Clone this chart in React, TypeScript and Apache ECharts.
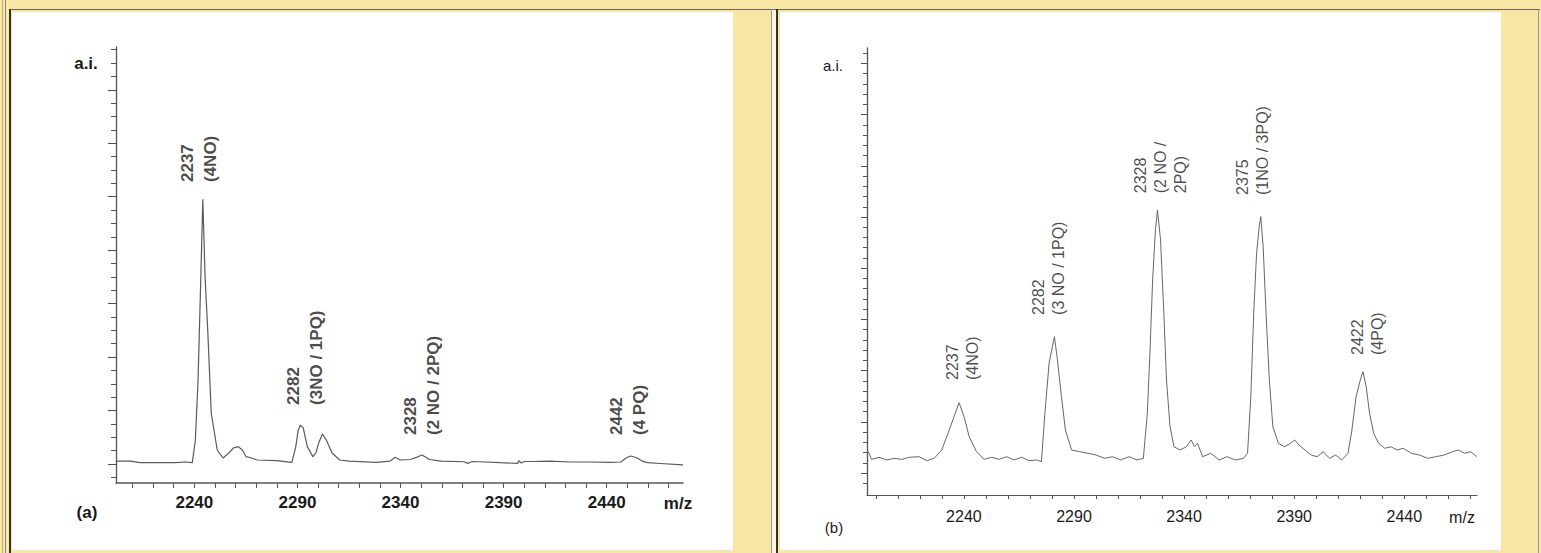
import React, { useEffect, useRef } from 'react';
import * as echarts from 'echarts';

const FONT = '"Liberation Sans", Arial, Helvetica, sans-serif';
const YELLOW = '#F7E6A4';

// ---------- Panel (a) ----------
const mzA = [2202.2, 2209.0, 2213.8, 2223.5, 2230.8, 2235.6, 2239.0, 2240.5, 2241.8, 2242.9, 2244.1, 2245.2, 2246.5, 2248.2, 2251.1, 2253.9, 2256.7, 2258.9, 2261.3, 2263.3, 2265.1, 2267.8, 2270.5, 2279.7, 2287.3, 2289.2, 2290.4, 2291.4, 2292.8, 2294.8, 2297.5, 2299.1, 2300.3, 2302.1, 2304.0, 2306.8, 2310.5, 2315.1, 2328.1, 2335.0, 2337.4, 2339.9, 2344.7, 2348.1, 2350.4, 2352.5, 2354.1, 2359.7, 2370.8, 2372.6, 2374.8, 2378.2, 2388.3, 2396.8, 2397.5, 2398.5, 2400.0, 2404.2, 2412.6, 2422.7, 2432.0, 2441.7, 2446.8, 2449.4, 2451.5, 2454.3, 2457.2, 2459.8, 2465.9, 2477.0];
const intensityA = [0.22, 0.22, 0.10, 0.10, 0.10, 0.15, 0.10, 1.8, 6.3, 12.6, 19.8, 14.0, 10.0, 3.8, 1.05, 0.45, 0.82, 1.2, 1.3, 1.05, 0.55, 0.45, 0.30, 0.25, 0.13, 1.3, 2.55, 2.9, 2.7, 1.3, 0.55, 0.9, 1.57, 2.25, 1.8, 0.82, 0.30, 0.22, 0.13, 0.22, 0.50, 0.30, 0.34, 0.52, 0.67, 0.49, 0.34, 0.22, 0.17, 0.05, 0.19, 0.17, 0.10, 0.05, 0.26, 0.07, 0.19, 0.19, 0.22, 0.15, 0.15, 0.13, 0.15, 0.45, 0.60, 0.49, 0.22, 0.10, 0.04, -0.07];
const xTicksA = [2210, 2220, 2230, 2240, 2250, 2260, 2270, 2280, 2290, 2300, 2310, 2320, 2330, 2340, 2350, 2360, 2370, 2380, 2390, 2400, 2410, 2420, 2430, 2440, 2450, 2460, 2470];
const xLabelsA = [2240, 2290, 2340, 2390, 2440];
const yTicksA = [-1, 0, 1, 2, 3, 4, 5, 6, 7, 8, 9, 10, 11, 12, 13, 14, 15, 16, 17, 18, 19, 20, 21, 22, 23, 24, 25, 26, 27, 28, 29, 30, 31];
const yMajorTicksA = [0, 4, 8, 12, 16, 20, 24, 28];
const peakLabelXA = [2242.2, 2293.8, 2350.4, 2450.4];
const peakLabelYA = [21.1, 4.42, 2.17, 2.17];
const peakLabelTextA = ['2237\n(4NO)', '2282\n(3NO / 1PQ)', '2328\n(2 NO / 2PQ)', '2442\n(4 PQ)'];

// ---------- Panel (b) ----------
const mzB = [2196.6, 2198.1, 2201.5, 2204.9, 2208.4, 2211.8, 2215.1, 2219.7, 2223.1, 2226.5, 2229.9, 2232.8, 2235.5, 2237.8, 2240.1, 2242.4, 2245.7, 2249.2, 2252.6, 2255.9, 2259.4, 2262.8, 2266.2, 2269.6, 2273.0, 2275.2, 2276.8, 2278.7, 2281.1, 2282.3, 2284.3, 2286.1, 2288.9, 2292.6, 2296.4, 2300.1, 2303.8, 2307.5, 2311.2, 2315.0, 2318.6, 2321.5, 2323.3, 2324.6, 2325.7, 2327.0, 2327.9, 2329.3, 2330.8, 2332.0, 2333.6, 2335.4, 2338.2, 2341.0, 2343.2, 2344.7, 2346.1, 2348.4, 2352.1, 2355.9, 2359.5, 2363.3, 2367.0, 2368.8, 2370.3, 2371.6, 2372.9, 2374.1, 2374.8, 2375.9, 2377.2, 2378.7, 2380.3, 2382.8, 2385.6, 2388.4, 2390.2, 2392.1, 2394.9, 2397.7, 2400.4, 2403.2, 2406.0, 2408.8, 2411.6, 2414.4, 2416.2, 2418.1, 2420.0, 2421.2, 2422.7, 2424.2, 2426.1, 2428.3, 2431.1, 2433.9, 2436.7, 2439.5, 2443.2, 2446.9, 2450.6, 2454.3, 2458.1, 2461.8, 2464.5, 2467.4, 2470.1, 2472.9];
const intensityB = [3.09, 2.34, 2.54, 2.28, 2.44, 2.34, 2.54, 2.60, 2.21, 2.44, 3.25, 4.88, 6.50, 7.87, 6.50, 4.55, 3.09, 2.34, 2.54, 2.34, 2.60, 2.28, 2.54, 2.21, 2.28, 2.11, 6.87, 11.75, 14.32, 12.36, 8.46, 5.21, 3.25, 3.09, 2.93, 2.76, 2.44, 2.60, 2.28, 2.60, 2.28, 2.44, 6.84, 13.34, 19.85, 24.74, 26.69, 23.76, 16.60, 10.09, 5.53, 3.57, 3.25, 3.57, 4.23, 3.57, 3.91, 2.60, 2.93, 2.28, 2.60, 2.28, 2.44, 2.93, 8.46, 16.60, 22.46, 25.06, 26.04, 23.11, 16.60, 10.09, 5.53, 3.91, 3.57, 3.91, 4.23, 3.74, 3.25, 2.76, 2.60, 3.09, 2.44, 2.76, 2.28, 2.93, 5.21, 8.46, 10.09, 10.90, 9.43, 6.84, 4.88, 3.91, 3.42, 3.57, 3.25, 3.42, 2.93, 2.76, 2.44, 2.60, 2.76, 3.09, 3.25, 2.93, 3.09, 2.60];
const xTicksB = [2200, 2210, 2220, 2230, 2240, 2250, 2260, 2270, 2280, 2290, 2300, 2310, 2320, 2330, 2340, 2350, 2360, 2370, 2380, 2390, 2400, 2410, 2420, 2430, 2440, 2450, 2460, 2470];
const xLabelsB = [2240, 2290, 2340, 2390, 2440];
const yTicksB = [0, 1, 2, 3, 4, 5, 6, 7, 8, 9, 10, 11, 12, 13, 14, 15, 16, 17, 18, 19, 20, 21, 22, 23, 24, 25, 26, 27, 28, 29, 30, 31, 32, 33, 34, 35, 36, 37, 38, 39, 40, 41, 42];
const yMajorTicksB = [1, 6, 11, 16, 21, 26, 31, 36, 41];
const peakLabelXB = [2239.2, 2278.3, 2329.3, 2371.1, 2423.2];
const peakLabelYB = [10.09, 16.44, 28.32, 28.15, 12.53];
const peakLabelTextB = ['2237\n(4NO)', '2282\n(3 NO / 1PQ)', '2328\n(2 NO /\n2PQ)', '2375\n(1NO / 3PQ)', '2422\n(4PQ)'];

const pairs = (xs: number[], ys: number[]) => xs.map((x, i) => [x, ys[i]]);
const labelItems = (xs: number[], ys: number[], ts: string[]) =>
  xs.map((x, i) => ({ value: [x, ys[i]], name: ts[i] }));

function makeXAxis(gi: number, min: number, max: number, ticks: number[], labels: number[], bold: boolean, fs: number, margin: number, tickLen: number) {
  return {
    gridIndex: gi,
    type: 'value',
    min,
    max,
    axisLine: { show: true, onZero: false, lineStyle: { color: '#555', width: bold ? 1.5 : 1.2 } },
    axisTick: { show: true, customValues: ticks, length: tickLen, lineStyle: { color: '#555', width: 1 } },
    axisLabel: {
      show: true,
      customValues: labels,
      margin,
      formatter: (v: number) => String(Math.round(v)),
      fontFamily: FONT,
      fontSize: fs,
      fontWeight: bold ? 'bold' : 'normal',
      color: '#1a1a1a',
    },
    splitLine: { show: false },
  };
}

function makeYAxis(gi: number, min: number, max: number, ticks: number[], showLine: boolean, tickLen: number, color: string) {
  return {
    gridIndex: gi,
    type: 'value',
    position: 'left',
    min,
    max,
    axisLine: { show: showLine, onZero: false, lineStyle: { color: '#555', width: 1.3 } },
    axisTick: { show: true, customValues: ticks, length: tickLen, lineStyle: { color, width: 1 } },
    axisLabel: { show: false },
    splitLine: { show: false },
  };
}

function labelSeries(xi: number, yi: number, data: any[], bold: boolean, fs: number, lh: number) {
  return {
    type: 'scatter',
    xAxisIndex: xi,
    yAxisIndex: yi,
    silent: true,
    symbolSize: 1,
    itemStyle: { color: 'rgba(0,0,0,0)' },
    data,
    label: {
      show: true,
      position: 'inside',
      rotate: 90,
      align: 'left',
      verticalAlign: 'middle',
      formatter: '{b}',
      fontFamily: FONT,
      fontSize: fs,
      fontWeight: bold ? 'bold' : 'normal',
      lineHeight: lh,
      color: '#1a1a1a',
    },
    z: 5,
  };
}

function txt(x: number, y: number, text: string, fs: number, bold: boolean) {
  return {
    type: 'text',
    x,
    y,
    silent: true,
    style: {
      text,
      fontFamily: FONT,
      fontSize: fs,
      fontWeight: bold ? 'bold' : 'normal',
      fill: '#1a1a1a',
      align: 'center',
      verticalAlign: 'middle',
    },
  };
}

const option: any = {
  animation: false,
  backgroundColor: 'transparent',
  grid: [
    { left: 116, top: 47, width: 567, height: 436 },
    { left: 867, top: 48, width: 610, height: 447 },
  ],
  xAxis: [
    makeXAxis(0, 2202, 2477, xTicksA, xLabelsA, true, 17, 11, 5),
    makeXAxis(1, 2196, 2473, xTicksB, xLabelsB, false, 16, 13, 4),
  ],
  yAxis: [
    makeYAxis(0, -1.42, 31.2, yTicksA, true, 5, '#555'),
    makeYAxis(0, -1.42, 31.2, yMajorTicksA, false, 8, '#2e5a4c'),
    makeYAxis(1, -1.14, 42.5, yTicksB, true, 4, '#555'),
    makeYAxis(1, -1.14, 42.5, yMajorTicksB, false, 6, '#3a5a50'),
  ],
  series: [
    {
      type: 'line',
      xAxisIndex: 0,
      yAxisIndex: 0,
      data: pairs(mzA, intensityA),
      showSymbol: false,
      silent: true,
      lineStyle: { color: '#5a5a5a', width: 1.2 },
    },
    {
      type: 'line',
      xAxisIndex: 1,
      yAxisIndex: 2,
      data: pairs(mzB, intensityB),
      showSymbol: false,
      silent: true,
      lineStyle: { color: '#666', width: 1 },
    },
    labelSeries(0, 0, labelItems(peakLabelXA, peakLabelYA, peakLabelTextA), true, 17, 23),
    labelSeries(1, 2, labelItems(peakLabelXB, peakLabelYB, peakLabelTextB), false, 16, 20),
  ],
  graphic: [
    txt(86, 63, 'a.i.', 17, true),
    txt(87, 512, '(a)', 17, true),
    txt(678, 503, 'm/z', 17, true),
    txt(833, 65, 'a.i.', 15, false),
    txt(834, 527, '(b)', 15, false),
    txt(1462, 517, 'm/z', 16, false),
  ],
};

const line = (left: number, top: number, width: number, height: number, color: string): React.CSSProperties => ({
  position: 'absolute', left, top, width, height, background: color,
});

export default function App() {
  const ref = useRef<HTMLDivElement>(null);
  useEffect(() => {
    if (!ref.current) return;
    const chart = echarts.init(ref.current, null, { renderer: 'svg' });
    chart.setOption(option);
    return () => chart.dispose();
  }, []);
  return (
    <div style={{ position: 'absolute', left: 0, top: 0, width: 1541, height: 553, background: YELLOW, overflow: 'hidden' }}>
      <div style={line(2, 0, 1, 553, '#b9ad86')} />
      <div style={line(5, 0, 1, 553, '#8d8872')} />
      <div style={line(9, 9, 1531, 1, '#666')} />
      <div style={line(9, 9, 2, 544, '#333')} />
      <div style={line(12, 12, 721, 538, '#fff')} />
      <div style={line(771, 9, 1, 544, '#999')} />
      <div style={line(772, 10, 4, 543, '#fbf5dc')} />
      <div style={line(776, 9, 2, 544, '#333')} />
      <div style={line(780, 12, 721, 538, '#fff')} />
      <div style={line(1538, 9, 1, 544, '#999')} />
      <div ref={ref} style={{ position: 'absolute', left: 0, top: 0, width: 1541, height: 553 }} />
    </div>
  );
}
